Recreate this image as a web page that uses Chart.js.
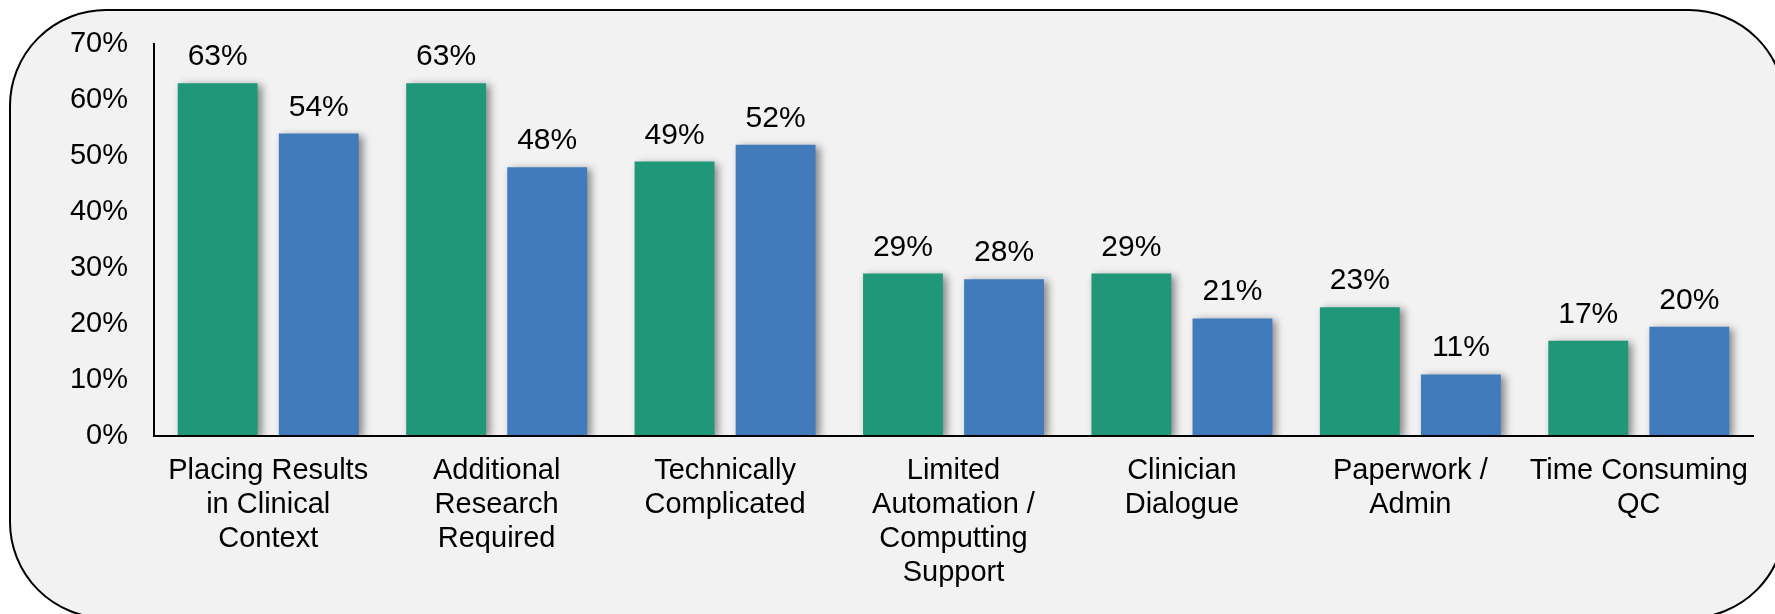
<!DOCTYPE html>
<html>
<head>
<meta charset="utf-8">
<script src="https://cdn.jsdelivr.net/npm/chart.js@4.4.1/dist/chart.umd.min.js"></script>
<style>
  body { margin: 0; background: #ffffff; }
  #chart-box { display: block; }
</style>
</head>
<body>
<canvas id="chart-box" width="1775" height="614"></canvas>
<script>
const categories = [
  ["Placing Results", "in Clinical", "Context"],
  ["Additional", "Research", "Required"],
  ["Technically", "Complicated"],
  ["Limited", "Automation /", "Computting", "Support"],
  ["Clinician", "Dialogue"],
  ["Paperwork /", "Admin"],
  ["Time Consuming", "QC"],
];
const greenValues = [63, 63, 49, 29, 29, 23, 17];
const blueValues = [54, 48, 52, 28, 21, 11, 19.5];
const yTicks = [0, 10, 20, 30, 40, 50, 60, 70];

const fontFamily = "'Liberation Sans', Arial, sans-serif";

// rounded panel behind the chart
const panelPlugin = {
  id: "panel",
  beforeDraw(chart) {
    const ctx = chart.ctx;
    const x = 10, y = 10, w = 1775, h = 608, r = 96;
    ctx.save();
    ctx.fillStyle = "#ffffff";
    ctx.fillRect(0, 0, chart.width, chart.height);
    ctx.beginPath();
    ctx.moveTo(x + r, y);
    ctx.lineTo(x + w - r, y);
    ctx.arcTo(x + w, y, x + w, y + r, r);
    ctx.lineTo(x + w, y + h - r);
    ctx.arcTo(x + w, y + h, x + w - r, y + h, r);
    ctx.lineTo(x + r, y + h);
    ctx.arcTo(x, y + h, x, y + h - r, r);
    ctx.lineTo(x, y + r);
    ctx.arcTo(x, y, x + r, y, r);
    ctx.closePath();
    ctx.fillStyle = "#f2f2f2";
    ctx.fill();
    ctx.lineWidth = 2;
    ctx.strokeStyle = "#000000";
    ctx.stroke();
    ctx.restore();
  },
};

// soft shadow on bars + value labels on top
const barExtras = {
  id: "barExtras",
  beforeDatasetsDraw(chart) {
    const ctx = chart.ctx;
    ctx.save();
    ctx.shadowColor = "rgba(0,0,0,0.45)";
    ctx.shadowBlur = 8;
    ctx.shadowOffsetX = 4;
    ctx.shadowOffsetY = 2;
  },
  afterDatasetsDraw(chart) {
    const ctx = chart.ctx;
    ctx.restore();
    ctx.save();
    ctx.font = "30px " + fontFamily;
    ctx.fillStyle = "#000000";
    ctx.textAlign = "center";
    ctx.textBaseline = "alphabetic";
    chart.data.datasets.forEach((ds, i) => {
      chart.getDatasetMeta(i).data.forEach((bar, j) => {
        ctx.fillText(Math.round(ds.data[j]) + "%", bar.x, bar.y - 18);
      });
    });
    ctx.restore();
  },
};

const ctx = document.getElementById("chart-box").getContext("2d");
const chart = new Chart(ctx, {
  type: "bar",
  data: {
    labels: categories,
    datasets: [
      {
        label: "Series 1",
        data: greenValues,
        backgroundColor: "#219779",
        categoryPercentage: 0.885,
        barPercentage: 0.79,
      },
      {
        label: "Series 2",
        data: blueValues,
        backgroundColor: "#427bbb",
        categoryPercentage: 0.885,
        barPercentage: 0.79,
      },
    ],
  },
  options: {
    responsive: false,
    animation: false,
    layout: {
      padding: { left: 0, right: 22, top: 44, bottom: 0 },
    },
    plugins: {
      legend: { display: false },
      tooltip: { enabled: false },
    },
    scales: {
      x: {
        grid: { display: false, drawTicks: false },
        border: { display: true, color: "#000000", width: 2, z: 1 },
        ticks: {
          color: "#000000",
          padding: 18,
          maxRotation: 0,
          autoSkip: false,
          font: { family: fontFamily, size: 29, lineHeight: 1.17 },
        },
        afterFit(scale) {
          scale.height = 178;
        },
      },
      y: {
        min: 0,
        max: 70,
        grid: { display: false, drawTicks: false },
        border: { display: true, color: "#000000", width: 2, z: 1 },
        afterBuildTicks(scale) {
          scale.ticks = yTicks.map(v => ({ value: v }));
        },
        ticks: {
          color: "#000000",
          padding: 26,
          font: { family: fontFamily, size: 29 },
          callback: v => v + "%",
        },
        afterFit(scale) {
          scale.width = 154;
        },
      },
    },
  },
  plugins: [panelPlugin, barExtras],
});
</script>
</body>
</html>
